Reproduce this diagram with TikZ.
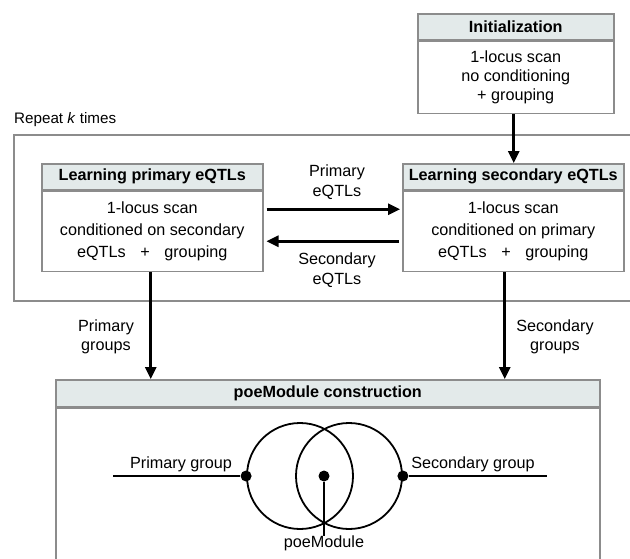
\documentclass[tikz,border=0pt]{standalone}
\usepackage{fontspec}
\setmainfont{Liberation Sans}
\usetikzlibrary{arrows.meta}
\definecolor{hdr}{HTML}{E3EAEA}
\definecolor{frame}{HTML}{8C8C8C}
\begin{document}
\begin{tikzpicture}[x=1pt,y=-1pt,
  every node/.style={font=\fontsize{16.2}{22}\selectfont, inner sep=0pt, align=center},
  hdrbox/.style={draw=frame, fill=hdr, line width=1.5pt, minimum height=26pt, anchor=north west, font=\fontsize{16.2}{22}\selectfont\bfseries},
  bodybox/.style={draw=frame, fill=white, line width=1.5pt, anchor=north west},
  arr/.style={-{Triangle[length=12pt,width=11pt]}, line width=2.7pt},
  thin/.style={line width=2.5pt},
  dotn/.style={circle, fill=black, minimum size=11pt},
  ring/.style={circle, draw=black, line width=1.8pt, minimum size=106pt}
]
\clip (0,0) rectangle (630,558);
% repeat frame
\node[draw=frame, line width=1.5pt, minimum width=640pt, minimum height=166pt, anchor=north west] (rep) at (13,134) {};
\node[anchor=base west, font=\fontsize{15.2}{20}\selectfont] (repl) at (14,123) {Repeat \textit{k} times};
% initialization
\node[hdrbox, minimum width=196pt] (hI) at (417,13) {Initialization};
\node[bodybox, minimum width=196pt, minimum height=72pt, font=\fontsize{16.2}{19}\selectfont] (bI) at (hI.south west) {1-locus scan\\no conditioning\\+ grouping};
% learning primary
\node[hdrbox, minimum width=221pt] (hL) at (41,163) {Learning primary eQTLs};
\node[bodybox, minimum width=221pt, minimum height=80pt] (bL) at (hL.south west) {1-locus scan\\conditioned on secondary\\eQTLs\hspace{0.9em}+\hspace{0.9em}grouping};
% learning secondary
\node[hdrbox, minimum width=221pt] (hR) at (402,163) {Learning secondary eQTLs};
\node[bodybox, minimum width=221pt, minimum height=80pt] (bR) at (hR.south west) {1-locus scan\\conditioned on primary\\eQTLs\hspace{0.9em}+\hspace{0.9em}grouping};
% poeModule
\node[hdrbox, minimum width=544pt, minimum height=27pt] (hP) at (55,379) {poeModule construction};
\node[bodybox, minimum width=544pt, minimum height=170pt] (bP) at (hP.south west) {};
% arrows
\draw[arr] ([xshift=-2pt]bI.south) -- ([xshift=-2pt]bI.south |- hR.north);
\draw[arr] ([xshift=3pt,yshift=22pt]bL.east) -- ([xshift=-2pt,yshift=22pt]bR.west);
\draw[arr] ([xshift=-3pt,yshift=-10pt]bR.west) -- ([xshift=3pt,yshift=-10pt]bL.east);
\node (lp) at (337,182) {Primary\\[-2pt]eQTLs};
\node (ls) at (337,270) {Secondary\\[-2pt]eQTLs};
\draw[arr] ([xshift=-1.5pt]bL.south) -- ([xshift=-1.5pt]bL.south |- hP.north);
\draw[arr] ([xshift=-8.5pt]bR.south) -- ([xshift=-8.5pt]bR.south |- hP.north);
\node (lpg) at (106,337) {Primary\\[-3pt]groups};
\node (lsg) at (555,337) {Secondary\\[-3pt]groups};
% venn
\node[ring] (cL) at (300,476) {};
\node[ring] (cR) at (349,476) {};
\node[dotn] (dL) at (cL.west) {};
\node[dotn] (dR) at (cR.east) {};
\node[dotn] (dC) at (324,476) {};
\coordinate (pl) at (113,476);
\coordinate (pr) at (547,476);
\coordinate (pd) at (324,536);
\draw[thin] (pl) -- (dL);
\draw[thin] (dR) -- (pr);
\draw[thin] (dC) -- (pd);
\node (tpg) at (181,464) {Primary group};
\node (tsg) at (473,464) {Secondary group};
\node[anchor=north] (tpm) at (324,536) {poeModule};
\end{tikzpicture}
\end{document}
